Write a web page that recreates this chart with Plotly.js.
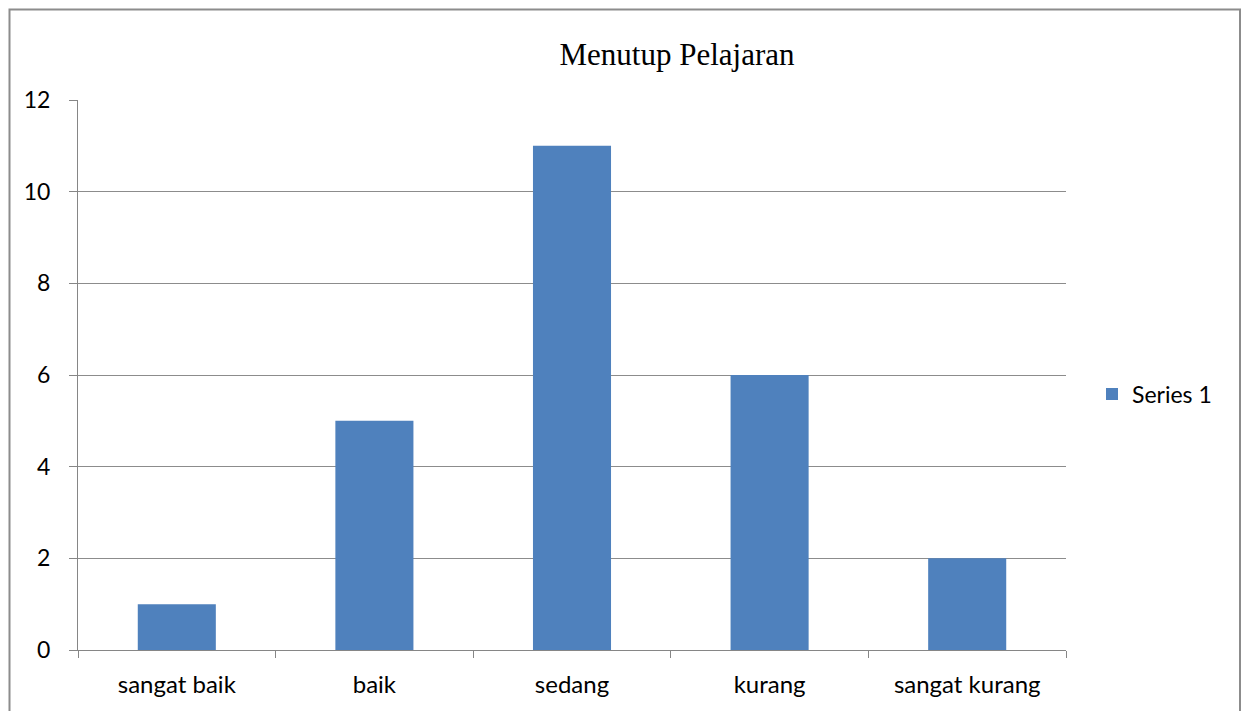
<!DOCTYPE html>
<html>
<head>
<meta charset="utf-8">
<script src="https://cdn.plot.ly/plotly-3.0.1.min.js"></script>
<style>html,body{margin:0;padding:0;background:#fff;}#chart{width:1246px;height:711px;}</style>
</head>
<body>
<div id="chart"></div>
<script>
const categories = ["sangat baik", "baik", "sedang", "kurang", "sangat kurang"];
const series1 = [1, 5, 11, 6, 2];
const yTicks = [0, 2, 4, 6, 8, 10, 12];
const chartTitle = "Menutup Pelajaran";
const seriesName = "Series 1";

const trace = {
  type: "bar",
  x: categories,
  y: series1,
  name: seriesName,
  marker: {color: "#4F81BD"},
  showlegend: true,
  hoverinfo: "x+y"
};

const W = 1246, H = 711, L = 78, R = 180, T = 100, B = 61;
const pw = W - L - R, ph = H - T - B;
function px(x){ return (x - L) / pw; }
function py(y){ return (H - B - y) / ph; }

const layout = {
  width: W, height: H,
  margin: {l: L, r: R, t: T, b: B, pad: 0},
  paper_bgcolor: "#ffffff",
  plot_bgcolor: "#ffffff",
  font: {family: "Lato, 'Noto Sans', sans-serif", size: 24, color: "#000"},
  title: {
    text: chartTitle,
    font: {family: "'Liberation Serif', 'DejaVu Serif', serif", size: 31, color: "#000"},
    xref: "container", yref: "container",
    x: 677 / W, y: 1 - 54 / H, xanchor: "center", yanchor: "middle"
  },
  bargap: 0.605,
  xaxis: {
    type: "category",
    showgrid: false,
    showline: true, linecolor: "#868686", linewidth: 1,
    ticks: "outside", tickson: "boundaries", ticklen: 7, tickcolor: "#868686",
    tickfont: {size: 24},
    ticklabelstandoff: 13,
    fixedrange: true
  },
  yaxis: {
    range: [0, 12],
    tickvals: yTicks,
    ticktext: yTicks.map(String),
    showgrid: true, gridcolor: "#8c8c8c", gridwidth: 1,
    showline: true, linecolor: "#868686", linewidth: 1,
    ticks: "outside", ticklen: 8, tickcolor: "#868686",
    tickfont: {size: 23},
    ticklabelstandoff: 14,
    zeroline: false,
    fixedrange: true
  },
  showlegend: true,
  legend: {
    x: px(1092), y: py(394), xanchor: "left", yanchor: "middle",
    font: {size: 23},
    bgcolor: "rgba(0,0,0,0)",
    itemwidth: 30
  },
  shapes: [
    {type: "rect", xref: "paper", yref: "paper",
     x0: px(9.5), x1: px(1240), y0: py(730), y1: py(9.5),
     line: {color: "#8c8c8c", width: 2}, fillcolor: "rgba(0,0,0,0)", layer: "below"}
  ]
};

Plotly.newPlot("chart", [trace], layout, {displayModeBar: false, staticPlot: true});
</script>
</body>
</html>
